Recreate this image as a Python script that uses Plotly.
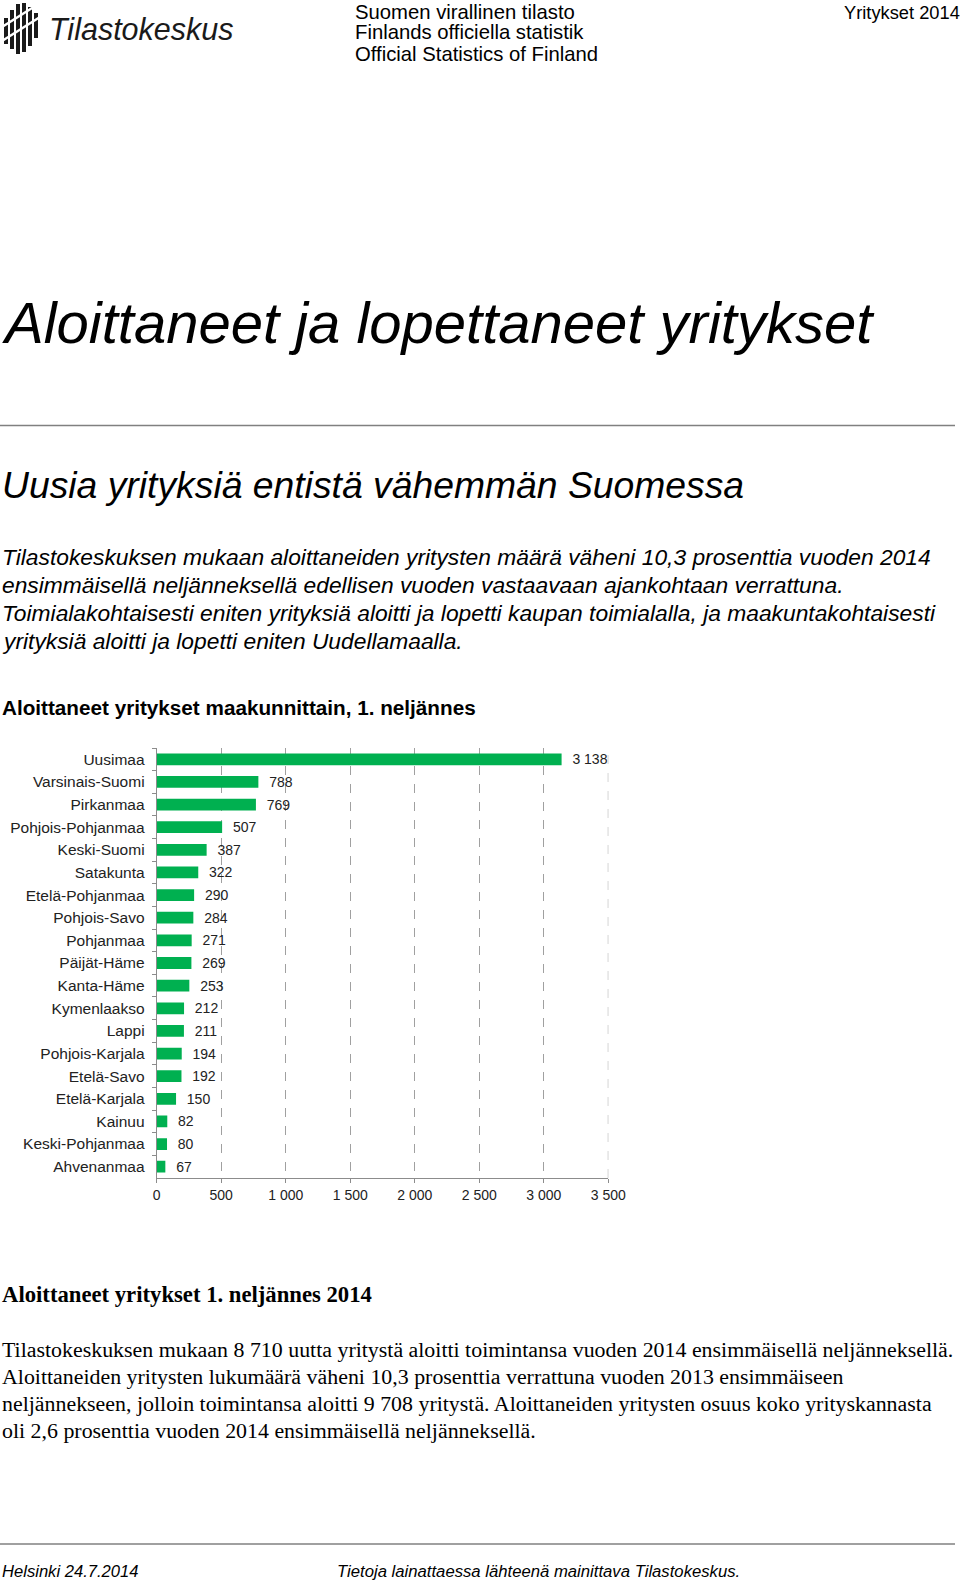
import plotly.graph_objects as go

W, H = 960, 1585

regions = ["Uusimaa", "Varsinais-Suomi", "Pirkanmaa", "Pohjois-Pohjanmaa", "Keski-Suomi",
           "Satakunta", "Etelä-Pohjanmaa", "Pohjois-Savo", "Pohjanmaa", "Päijät-Häme",
           "Kanta-Häme", "Kymenlaakso", "Lappi", "Pohjois-Karjala", "Etelä-Savo",
           "Etelä-Karjala", "Kainuu", "Keski-Pohjanmaa", "Ahvenanmaa"]
values = [3138, 788, 769, 507, 387, 322, 290, 284, 271, 269, 253, 212, 211, 194, 192, 150, 82, 80, 67]
x_ticks = [0, 500, 1000, 1500, 2000, 2500, 3000, 3500]

SANS = "Liberation Sans, Arial, sans-serif"
SERIF = "Liberation Serif, Times New Roman, serif"

fig = go.Figure()
fig.add_trace(go.Bar(
    x=values, y=regions, orientation="h",
    marker=dict(color="#00B050", line=dict(width=0)),
    texttemplate="\u00a0\u00a0%{x:,d}", textposition="outside", cliponaxis=False,
    constraintext="none",
    textfont=dict(family=SANS, size=14, color="#222"),
    width=0.52,
))


def px(x):
    return x / W


def py(y):
    return 1 - y / H


fig.update_layout(
    width=W, height=H, autosize=False,
    margin=dict(l=0, r=0, t=0, b=0, pad=0, autoexpand=False),
    paper_bgcolor="white", plot_bgcolor="white",
    separators=", ", showlegend=False,
    xaxis=dict(domain=[px(156.7), px(608.3)], range=[0, 3500], tickvals=x_ticks,
               tickformat=",d", showgrid=True, gridcolor="#a0a0a0", griddash="dash", gridwidth=1,
               showline=True, linecolor="#8c8c8c", linewidth=1, ticks="outside", ticklen=4,
               tickcolor="#8c8c8c", tickfont=dict(family=SANS, size=14, color="#222"),
               zeroline=False, anchor="y", fixedrange=True, automargin=False),
    yaxis=dict(domain=[py(1178), py(748)], autorange="reversed", type="category",
               showline=True, linecolor="#8c8c8c", linewidth=1, ticks="outside", ticklen=4,
               tickcolor="#8c8c8c", tickson="boundaries", showgrid=False, ticklabelstandoff=8,
               tickfont=dict(family=SANS, size=15.5, color="#222"), anchor="x", fixedrange=True,
               automargin=False),
)

# gridline at the right end of the value axis (as in the reference)
fig.add_shape(type="line", xref="x", yref="paper", x0=x_ticks[-1], x1=x_ticks[-1],
              y0=py(1178), y1=py(748), line=dict(color="#a0a0a0", width=1, dash="dash"))


def ann(text, x, y, size, family=SANS, xanchor="left", color="#000", italic=False, bold=False):
    fig.add_annotation(x=px(x), y=py(y), xref="paper", yref="paper", text=text, showarrow=False,
                       xanchor=xanchor, yanchor="middle", borderpad=0, borderwidth=0,
                       font=dict(family=family, size=size, color=color,
                                 style="italic" if italic else "normal",
                                 weight="bold" if bold else "normal"))


def hline(y, x0, x1, color="#808080", width=1.5):
    fig.add_shape(type="line", xref="paper", yref="paper", x0=px(x0), x1=px(x1), y0=py(y), y1=py(y),
                  line=dict(color=color, width=width))


# logo
bars = [(6, 18, 44), (12, 10, 49), (18, 4, 54), (24, 3, 52), (30, 7, 46), (36, 13, 38)]
for bx, y0, y1 in bars:
    fig.add_shape(type="line", xref="paper", yref="paper", x0=px(bx), x1=px(bx), y0=py(y0), y1=py(y1),
                  line=dict(color="#1a1a1a", width=4))
for (a, b) in [((2, 41), (40, 17)), ((2, 27), (40, 3))]:
    fig.add_shape(type="line", xref="paper", yref="paper", x0=px(a[0]), x1=px(b[0]), y0=py(a[1]), y1=py(b[1]),
                  line=dict(color="white", width=2.5))
ann("Tilastokeskus", 49, 29, 30.5, italic=True, color="#1a1a1a")

# header
ann("Suomen virallinen tilasto", 355, 12, 20.3)
ann("Finlands officiella statistik", 355, 32.5, 20.3)
ann("Official Statistics of Finland", 355, 53.5, 20.3)
ann("Yritykset 2014", 960, 12, 18.3, xanchor="right")

# title
ann("Aloittaneet ja lopettaneet yritykset", 2, 323, 58, italic=True)
hline(425.5, 0, 955)
ann("Uusia yrityksiä entistä vähemmän Suomessa", 2, 485, 37.3, italic=True)

para = [
    "Tilastokeskuksen mukaan aloittaneiden yritysten määrä väheni 10,3 prosenttia vuoden 2014",
    "ensimmäisellä neljänneksellä edellisen vuoden vastaavaan ajankohtaan verrattuna.",
    "Toimialakohtaisesti eniten yrityksiä aloitti ja lopetti kaupan toimialalla, ja maakuntakohtaisesti",
    "yrityksiä aloitti ja lopetti eniten Uudellamaalla.",
]
for i, line in enumerate(para):
    ann(line, 2, 557 + i * 28, 22.8, italic=True)

ann("Aloittaneet yritykset maakunnittain, 1. neljännes", 2, 707.5, 20.7, bold=True)

ann("Aloittaneet yritykset 1. neljännes 2014", 2, 1294.5, 22.7, family=SERIF, bold=True)
para2 = [
    "Tilastokeskuksen mukaan 8 710 uutta yritystä aloitti toimintansa vuoden 2014 ensimmäisellä neljänneksellä.",
    "Aloittaneiden yritysten lukumäärä väheni 10,3 prosenttia verrattuna vuoden 2013 ensimmäiseen",
    "neljännekseen, jolloin toimintansa aloitti 9 708 yritystä. Aloittaneiden yritysten osuus koko yrityskannasta",
    "oli 2,6 prosenttia vuoden 2014 ensimmäisellä neljänneksellä.",
]
for i, line in enumerate(para2):
    ann(line, 2, 1349 + i * 27.3, 21.9, family=SERIF)

hline(1544, 0, 955)
ann("Helsinki 24.7.2014", 2, 1571, 16.6, italic=True)
ann("Tietoja lainattaessa lähteenä mainittava Tilastokeskus.", 337, 1571, 16.7, italic=True)

fig.write_html("out.html", config={"responsive": False})
